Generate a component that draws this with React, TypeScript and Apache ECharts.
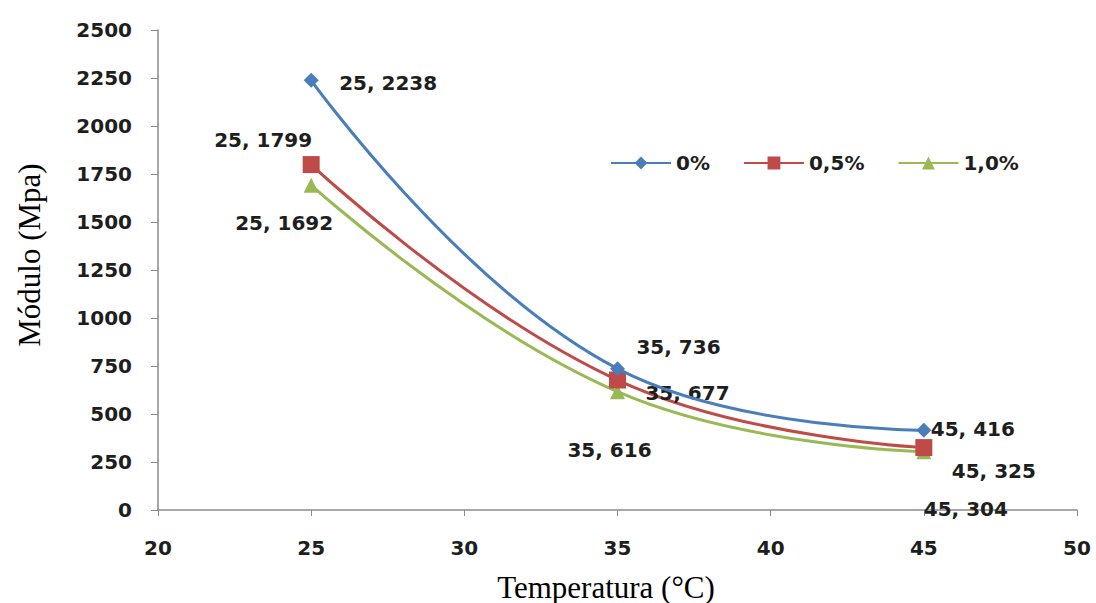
import React, { useEffect, useRef } from "react";
import * as echarts from "echarts";

const temperatures = [25, 35, 45];
const seriesNames = ["0%", "0,5%", "1,0%"];
const values0 = [2238, 736, 416];
const values05 = [1799, 677, 325];
const values10 = [1692, 616, 304];
const xMin = 20, xMax = 50, xStep = 5;
const yMin = 0, yMax = 2500, yStep = 250;

// label offsets (style only), per series per point
const labelOffsets = [
  [[77, 3], [61, -22], [49, -1]],
  [[-48, -25], [70, 13], [70, 23]],
  [[-27, 38], [-8, 58], [42, 57]],
];
const colors = ["#4A7EBB", "#BE4B48", "#98B954"];
const symbols = ["diamond", "rect", "triangle"];
const symbolSizes = [15, 17, 15];

const FONT = "DejaVu Sans";

export default function App() {
  const ref = useRef<HTMLDivElement>(null);
  useEffect(() => {
    if (!ref.current) return;
    const chart = echarts.init(ref.current, null, { renderer: "svg" });
    const allValues = [values0, values05, values10];
    const series = allValues.map((vals, si) => ({
      name: seriesNames[si],
      type: "line",
      smooth: 0.45,
      symbol: symbols[si],
      symbolSize: symbolSizes[si],
      lineStyle: { width: 3, color: colors[si] },
      itemStyle: { color: colors[si] },
      z: 3 - si,
      data: vals.map((v, i) => ({
        value: [temperatures[i], v],
        label: {
          show: true,
          position: "inside",
          offset: labelOffsets[si][i],
          align: "center",
          verticalAlign: "middle",
          formatter: `${temperatures[i]}, ${v}`,
          fontFamily: FONT,
          fontWeight: "bold",
          fontSize: 20,
          color: "#1e1e1e",
        },
      })),
    }));
    chart.setOption({
      animation: false,
      backgroundColor: "#ffffff",
      grid: { left: 158, right: 19, top: 30, bottom: 93 },
      legend: {
        left: 605,
        top: 148,
        itemWidth: 60,
        itemHeight: 16,
        itemGap: 33,
        data: seriesNames,
        textStyle: { fontFamily: FONT, fontWeight: "bold", fontSize: 20, color: "#1e1e1e" },
      },
      xAxis: {
        type: "value",
        min: xMin,
        max: xMax,
        interval: xStep,
        splitLine: { show: false },
        axisLine: { show: true, lineStyle: { color: "#8a8a8a", width: 1.5 } },
        axisTick: { show: true, length: 6, lineStyle: { color: "#8a8a8a" } },
        axisLabel: {
          margin: 28,
          formatter: (v: number) => String(v),
          fontFamily: FONT,
          fontWeight: "bold",
          fontSize: 20,
          color: "#1e1e1e",
        },
      },
      yAxis: {
        type: "value",
        min: yMin,
        max: yMax,
        interval: yStep,
        splitLine: { show: false },
        axisLine: { show: true, lineStyle: { color: "#8a8a8a", width: 1.5 } },
        axisTick: { show: true, length: 7, lineStyle: { color: "#8a8a8a" } },
        axisLabel: {
          margin: 26,
          formatter: (v: number) => String(v),
          fontFamily: FONT,
          fontWeight: "bold",
          fontSize: 20,
          color: "#1e1e1e",
        },
      },
      graphic: [
        {
          type: "text",
          x: 606,
          y: 587,
          style: {
            text: "Temperatura (°C)",
            font: '31px "Liberation Serif"',
            fill: "#000",
            align: "center",
            verticalAlign: "middle",
          },
        },
        {
          type: "text",
          x: 29,
          y: 255,
          rotation: Math.PI / 2,
          style: {
            text: "Módulo (Mpa)",
            font: '31px "Liberation Serif"',
            fill: "#000",
            align: "center",
            verticalAlign: "middle",
          },
        },
      ],
      series,
    });
    return () => chart.dispose();
  }, []);
  return (
    <div
      ref={ref}
      style={{ position: "fixed", left: 0, top: 0, width: 1096, height: 603 }}
    />
  );
}
